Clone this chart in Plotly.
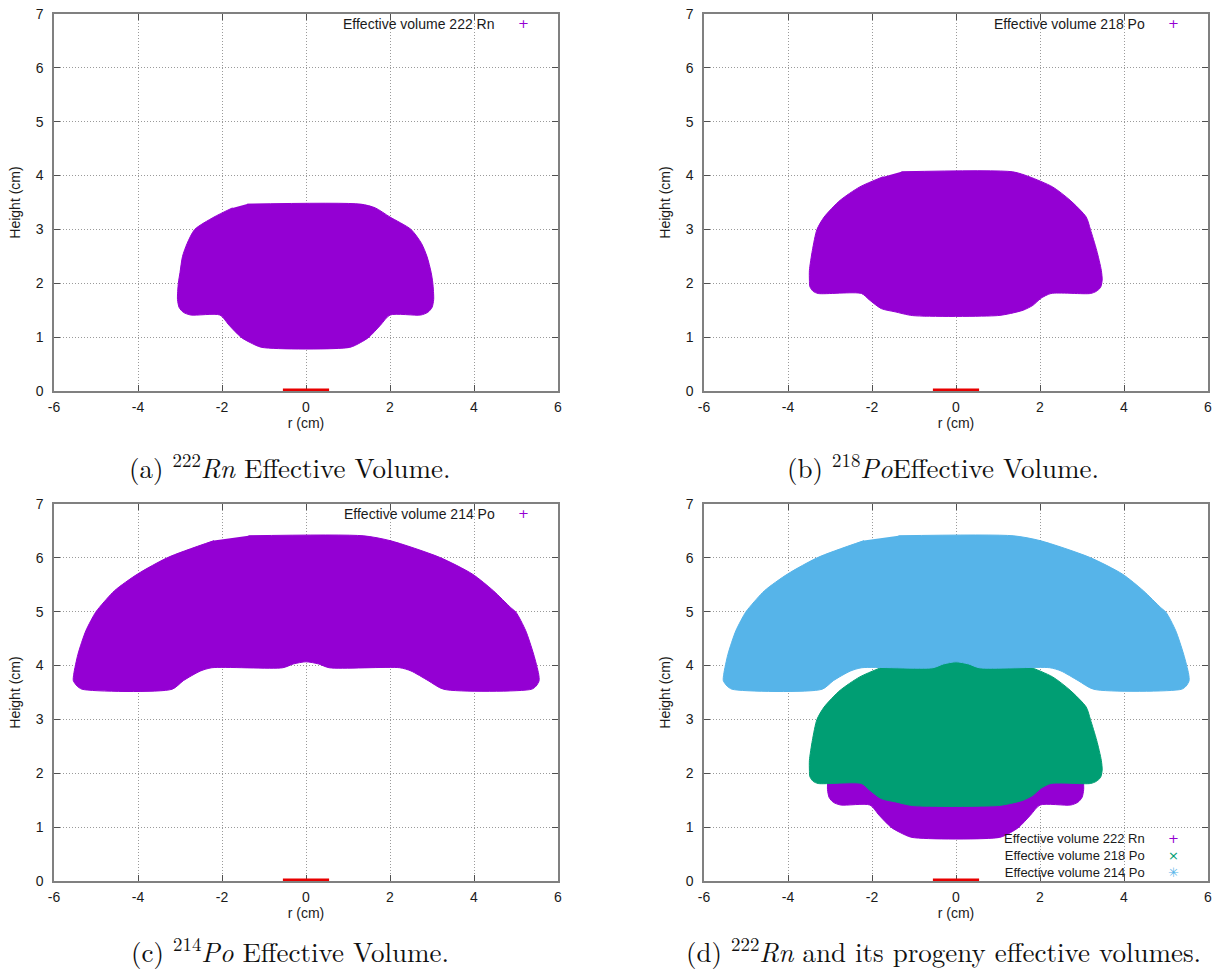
import plotly.graph_objects as go

# ---------------- data ----------------
# outline of the 222Rn effective volume (r in cm, height in cm)
rn222_r = [-1.40, 1.30, 1.65, 2.00, 2.50, 2.75, 2.88, 2.98, 3.02, 3.04, 3.00, 2.90, 2.73, 2.00,
           1.77, 1.50, 1.30, 1.04, -1.05, -1.33, -1.55, -1.83, -2.05, -2.74, -2.92, -3.02,
           -3.06, -3.04, -3.00, -2.94, -2.83, -2.65, -2.19, -1.75]
rn222_h = [3.47, 3.47, 3.40, 3.23, 3.00, 2.74, 2.50, 2.20, 2.00, 1.70, 1.55, 1.46, 1.41, 1.41,
           1.22, 1.00, 0.90, 0.81, 0.81, 0.90, 1.00, 1.22, 1.41, 1.41, 1.46, 1.55,
           1.70, 2.00, 2.20, 2.50, 2.74, 3.00, 3.23, 3.40]

# outline of the 218Po effective volume
po218_r = [-1.30, 1.35, 1.74, 2.30, 2.72, 3.10, 3.20, 3.35, 3.46, 3.48, 3.44, 3.34, 3.20, 2.26,
           2.02, 1.83, 1.60, 1.30, 0.99, -1.03, -1.45, -1.78, -2.06, -2.25, -3.28, -3.40,
           -3.48, -3.49, -3.49, -3.42, -3.31, -3.14, -2.76, -2.29, -1.73]
po218_h = [4.07, 4.07, 3.98, 3.79, 3.54, 3.23, 3.00, 2.61, 2.24, 2.06, 1.92, 1.85, 1.81, 1.81,
           1.72, 1.59, 1.50, 1.44, 1.40, 1.40, 1.47, 1.53, 1.69, 1.81, 1.81, 1.85,
           1.94, 2.06, 2.24, 2.61, 3.00, 3.23, 3.54, 3.79, 3.98]

# outline of the 214Po effective volume
po214_r = [-1.37, 1.36, 2.00, 3.18, 3.96, 4.46, 4.87, 5.00, 5.23, 5.42, 5.54, 5.55, 5.48, 5.37,
           3.28, 2.91, 2.50, 2.23, 0.55, 0.30, 0.00, -0.30, -0.55, -2.24, -2.51, -2.92, -3.19,
           -5.33, -5.45, -5.54, -5.53, -5.43, -5.24, -5.01, -4.92, -4.56, -4.01, -3.28, -2.19]
po214_h = [6.41, 6.41, 6.32, 6.01, 5.70, 5.39, 5.08, 4.99, 4.65, 4.21, 3.84, 3.72, 3.62, 3.56,
           3.56, 3.72, 3.90, 3.96, 3.96, 4.03, 4.07, 4.03, 3.96, 3.96, 3.90, 3.72, 3.56,
           3.56, 3.62, 3.72, 3.84, 4.21, 4.65, 4.99, 5.08, 5.39, 5.70, 6.01, 6.32]

# detector (red bar on the axis)
detector_r = [-0.55, 0.55]
detector_h = [0, 0]

x_ticks = [-6, -4, -2, 0, 2, 4, 6]
x_tick_labels = ["-6", "-4", "-2", "0", "2", "4", "6"]
y_ticks = [0, 1, 2, 3, 4, 5, 6, 7]
y_tick_labels = ["0", "1", "2", "3", "4", "5", "6", "7"]

series_names = ["Effective volume 222 Rn", "Effective volume 218 Po", "Effective volume 214 Po"]
key_symbols = ["+", "\u00d7", "\u2733"]
captions = [
    "(a) <sup>222</sup><i>Rn</i> Effective Volume.",
    "(b) <sup>218</sup><i>Po</i>Effective Volume.",
    "(c) <sup>214</sup><i>Po</i> Effective Volume.",
    "(d) <sup>222</sup><i>Rn</i> and its progeny effective volumes.",
]

# ---------------- styling ----------------
COLORS = ["#9400d3", "#009e73", "#56b4e9"]
W, H = 1218, 974
SANS = "Liberation Sans, Arial, sans-serif"
SERIF = "Latin Modern Roman, CMU Serif, Liberation Serif, DejaVu Serif, serif"
TXT = "#1a1a1a"

volumes = [(rn222_r, rn222_h), (po218_r, po218_h), (po214_r, po214_h)]

# panel frames in pixels: (left, top, right, bottom)
panel_px = [(54, 14, 558, 391), (704, 14, 1208, 391), (54, 504, 558, 881), (704, 504, 1208, 881)]
panel_series = [[0], [1], [2], [0, 1, 2]]
caption_pos = [(290, 466), (943, 466), (290, 950), (943, 950)]

fig = go.Figure()
annotations = []

for i, ((l, t, r, b), ser) in enumerate(zip(panel_px, panel_series)):
    n = "" if i == 0 else str(i + 1)
    xa, ya = "x" + n, "y" + n
    single = len(ser) == 1
    for k, s in enumerate(ser):
        rr, hh = volumes[s]
        col = COLORS[0] if single else COLORS[s]
        fig.add_trace(go.Scatter(
            x=rr, y=hh, xaxis=xa, yaxis=ya, mode="lines", fill="toself",
            fillcolor=col, line=dict(color=col, width=1, shape="spline", smoothing=0.7),
            showlegend=False, hoverinfo="skip"))
    fig.add_trace(go.Scatter(
        x=detector_r, y=detector_h, xaxis=xa, yaxis=ya, mode="lines",
        line=dict(color="#e80000", width=5), showlegend=False,
        cliponaxis=False, hoverinfo="skip"))

    axis_common = dict(
        showline=True, linecolor="#808080", linewidth=1.5, mirror="allticks",
        ticks="inside", ticklen=6, tickcolor="#505050", tickwidth=1,
        showgrid=True, gridcolor="#9a9a9a", griddash="1px,2px", gridwidth=1,
        zeroline=False, tickmode="array", automargin=False,
        tickfont=dict(family=SANS, size=14, color=TXT),
        layer="below traces",
    )
    fig.update_layout({
        "xaxis" + n: dict(
            axis_common, domain=[l / W, r / W], anchor=ya, range=[-6, 6],
            tickvals=x_ticks, ticktext=x_tick_labels, ticklabelstandoff=2,
            title=dict(text="r (cm)", font=dict(family=SANS, size=14, color=TXT), standoff=4),
        ),
        "yaxis" + n: dict(
            axis_common, domain=[1 - b / H, 1 - t / H], anchor=xa, range=[0, 7],
            tickvals=y_ticks, ticktext=y_tick_labels, ticklabelstandoff=6,
            title=dict(text="Height (cm)", font=dict(family=SANS, size=14, color=TXT), standoff=12),
        ),
    })

    # gnuplot-style key: text right-justified, sample symbol to the right
    if single:
        annotations.append(dict(
            xref=xa + " domain", yref=ya + " domain", x=0.879, y=0.974,
            xanchor="right", yanchor="middle", showarrow=False,
            text=series_names[ser[0]], font=dict(family=SANS, size=14, color=TXT)))
        annotations.append(dict(
            xref=xa + " domain", yref=ya + " domain", x=0.932, y=0.974,
            xanchor="center", yanchor="middle", showarrow=False,
            text='<span style="color:%s">%s</span>' % (COLORS[0], key_symbols[0]),
            font=dict(family="DejaVu Sans", size=13, color=COLORS[0])))
    else:
        annotations.append(dict(
            xref=xa + " domain", yref=ya + " domain", x=0.879, y=0.067,
            xanchor="right", yanchor="middle", align="right", showarrow=False,
            text="<br>".join(series_names[s] for s in ser),
            font=dict(family=SANS, size=13, color=TXT)))
        annotations.append(dict(
            xref=xa + " domain", yref=ya + " domain", x=0.932, y=0.067,
            xanchor="center", yanchor="middle", align="center", showarrow=False,
            text="<br>".join('<span style="color:%s">%s</span>' % (COLORS[s], key_symbols[s]) for s in ser),
            font=dict(family="DejaVu Sans", size=13, color=COLORS[0])))

for cap, (cx, cy) in zip(captions, caption_pos):
    annotations.append(dict(
        xref="paper", yref="paper", x=cx / W, y=1 - cy / H, xanchor="center", yanchor="middle",
        showarrow=False, text=cap, font=dict(family=SERIF, size=27, color="#111111")))

fig.update_layout(
    width=W, height=H, margin=dict(l=0, r=0, t=0, b=0),
    paper_bgcolor="white", plot_bgcolor="white", template="none",
    annotations=annotations, showlegend=False,
)

fig.write_html("out.html")
